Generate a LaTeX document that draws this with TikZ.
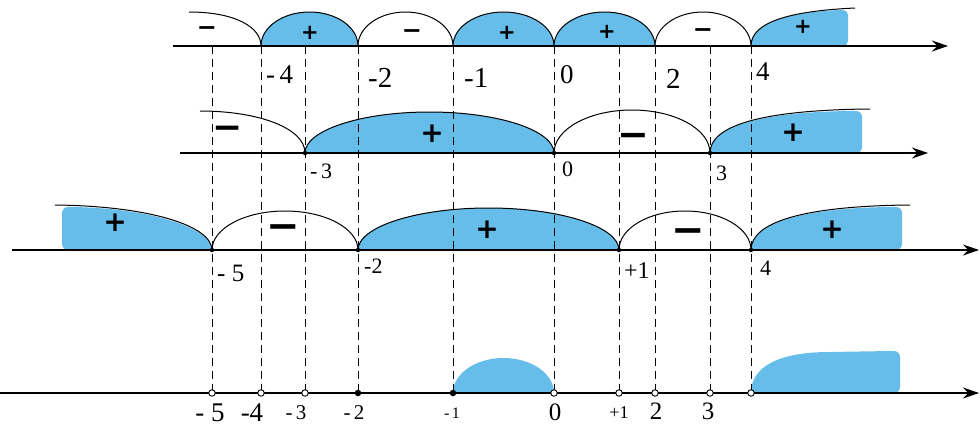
\documentclass[tikz,border=0pt]{standalone}
\usepackage{fontspec}
\setmainfont{Liberation Serif}
\newfontfamily\signfont{DejaVu Sans}
\usetikzlibrary{arrows.meta}
\definecolor{regionblue}{RGB}{102,189,234}
\tikzset{
  axisline/.style={line width=1.3pt,-{Stealth[length=16pt,width=11pt]}},
  guide/.style={line width=0.9pt,dash pattern=on 8pt off 5pt},
  bound/.style={line width=1pt},
  bluereg/.style={fill=regionblue},
  sgn/.style={font=\signfont\bfseries\fontsize{#1}{#1}\selectfont,inner sep=0pt},
  lbl/.style={font=\fontsize{#1}{#1}\selectfont,inner sep=0pt,anchor=base west},
  blbl/.style={font=\fontsize{#1}{#1}\selectfont,inner sep=0pt,anchor=base},
  rootdot/.style={fill=black,inner sep=0pt,minimum size=4.5pt,circle},
  opendot/.style={draw=black,fill=white,line width=0.9pt,inner sep=0pt,minimum size=6.5pt,circle},
  closeddot/.style={fill=black,inner sep=0pt,minimum size=6.5pt,circle}
}
\newcommand{\msign}{\vphantom{+}\char"2212}
\begin{document}
\begin{tikzpicture}[x=1pt,y=-1pt]
\useasboundingbox (0,0) rectangle (980,426);
\foreach \n/\x in {m5/212,m4/261,m3/305,m2/358,m1/453,z/554,p1/619,p2/655,p3/710,p4/751} {
  \coordinate (a\n) at (\x,46);
  \coordinate (b\n) at (\x,153);
  \coordinate (c\n) at (\x,250);
  \coordinate (d\n) at (\x,393);
}
% axis ends
\coordinate (aS) at (173,46);  \coordinate (aE) at (948,46);
\coordinate (bS) at (180,153); \coordinate (bE) at (928,153);
\coordinate (cS) at (12,250);  \coordinate (cE) at (979,250);
\coordinate (dS) at (0,393);   \coordinate (dE) at (979,393);
% free ends of open curves
\coordinate (aL) at (189,12);  \coordinate (aR) at (855,8);
\coordinate (bL) at (200,111); \coordinate (bR) at (870,109);
\coordinate (cL) at (55,205);  \coordinate (cR) at (910,205);

% ---------- row 1 ----------
\draw[bound,bluereg] (am4) arc[start angle=180,end angle=0,x radius=48.5pt,y radius=34pt] -- cycle;
\draw[bound] (am2) arc[start angle=180,end angle=0,x radius=47.5pt,y radius=34pt];
\draw[bound,bluereg] (am1) arc[start angle=180,end angle=0,x radius=50.5pt,y radius=34pt] -- cycle;
\draw[bound,bluereg] (az) arc[start angle=180,end angle=0,x radius=50.5pt,y radius=34pt] -- cycle;
\draw[bound] (ap2) arc[start angle=180,end angle=0,x radius=48pt,y radius=34pt];
\draw[bound] (aL) .. controls (235,12) and (261,27) .. (am4);
\fill[bluereg] (ap4) .. controls (751,23) and (790,12) .. (840,10) [rounded corners=5pt] -- (848,10) -- (848,46) [sharp corners] -- cycle;
\draw[bound] (ap4) .. controls (751,22) and (790,11) .. (aR);

% ---------- row 2 ----------
\draw[bound,bluereg] (bm3) arc[start angle=180,end angle=0,x radius=124.5pt,y radius=41pt] -- cycle;
\draw[bound] (bz) arc[start angle=180,end angle=0,x radius=78pt,y radius=43pt];
\draw[bound] (bL) .. controls (258,111) and (305,128) .. (bm3);
\fill[bluereg] (bp3) .. controls (710,127) and (760,112) .. (850,111) [rounded corners=6pt] -- (862,111) -- (862,153) [sharp corners] -- cycle;
\draw[bound] (bp3) .. controls (710,126) and (760,110) .. (bR);

% ---------- row 3 ----------
\draw[bound] (cm5) arc[start angle=180,end angle=0,x radius=73pt,y radius=39pt];
\draw[bound,bluereg] (cm2) arc[start angle=180,end angle=0,x radius=130.5pt,y radius=42pt] -- cycle;
\draw[bound] (cp1) arc[start angle=180,end angle=0,x radius=66pt,y radius=39pt];
\fill[bluereg] (cm5) .. controls (212,228) and (150,208) .. (72,207) [rounded corners=6pt] -- (62,207) -- (62,250) [sharp corners] -- cycle;
\draw[bound] (cL) .. controls (150,206) and (212,226) .. (cm5);
\fill[bluereg] (cp4) .. controls (751,224) and (800,208) .. (890,207) [rounded corners=6pt] -- (902,207) -- (902,250) [sharp corners] -- cycle;
\draw[bound] (cp4) .. controls (751,223) and (800,206) .. (cR);

% ---------- row 4 ----------
\fill[bluereg] (dm1) arc[start angle=180,end angle=0,x radius=50.5pt,y radius=35pt] -- cycle;
\fill[bluereg] (dp4) .. controls (751,366) and (780,352) .. (830,352) -- (890,351) [rounded corners=6pt] -- (900,351) -- (900,393) [sharp corners] -- cycle;

% ---------- guides ----------
\foreach \n in {m5,m4,m3,m2,m1,z,p1,p2,p3,p4}
  \draw[guide] (a\n) -- (d\n);

% ---------- axes ----------
\draw[axisline] (aS) -- (aE);
\draw[axisline] (bS) -- (bE);
\draw[axisline] (cS) -- (cE);
\draw[axisline] (dS) -- (dE);

% ---------- root dots ----------
\foreach \n in {m3,z,p3} \node[rootdot] (bd\n) at (b\n) {};
\foreach \n in {m5,m2,p1,p4} \node[rootdot] (cd\n) at (c\n) {};
\foreach \n in {m5,m4,m3,z,p1,p2,p3,p4} \node[opendot] (dd\n) at (d\n) {};
\foreach \n in {m2,m1} \node[closeddot] (dd\n) at (d\n) {};

% ---------- signs ----------
\node[sgn=24] (s1a) at (207,28) {\msign};
\node[sgn=21] (s1b) at (310,33) {+};
\node[sgn=24] (s1c) at (412,31) {\msign};
\node[sgn=21] (s1d) at (507,33) {+};
\node[sgn=21] (s1e) at (607,32) {+};
\node[sgn=24] (s1f) at (703,30) {\msign};
\node[sgn=21] (s1g) at (803,27) {+};

\node[sgn=36] (s2a) at (228,128) {\msign};
\node[sgn=28] (s2b) at (432,134) {+};
\node[sgn=38] (s2c) at (633,136) {\msign};
\node[sgn=28] (s2d) at (793,133) {+};

\node[sgn=28] (s3a) at (115,223) {+};
\node[sgn=40] (s3b) at (283,227) {\msign};
\node[sgn=28] (s3c) at (487,230) {+};
\node[sgn=40] (s3d) at (688,231) {\msign};
\node[sgn=28] (s3e) at (832,230) {+};

% ---------- labels ----------
\node[lbl=27] (l1a) at (266,83) {-\,4};
\node[lbl=29] (l1b) at (368,87) {-2};
\node[lbl=29] (l1c) at (464,87) {-1};
\node[lbl=27] (l1d) at (560,83) {0};
\node[lbl=29] (l1e) at (666,88) {2};
\node[lbl=27] (l1f) at (756,80) {4};

\node[lbl=22] (l2a) at (310,178) {-\,3};
\node[lbl=22] (l2b) at (562,176) {0};
\node[lbl=22] (l2c) at (716,180) {3};

\node[lbl=25] (l3a) at (217,281) {- 5};
\node[lbl=22] (l3b) at (364,273) {-2};
\node[lbl=24] (l3c) at (624,278) {+1};
\node[lbl=22] (l3d) at (760,275) {4};

\node[blbl=27] (l4a) at (210,421) {- 5};
\node[blbl=27] (l4b) at (252,421) {-4};
\node[blbl=21] (l4c) at (296,419) {-\,3};
\node[blbl=21] (l4d) at (354,419) {-\,2};
\node[blbl=16] (l4e) at (452,418) {-\,1};
\node[blbl=25] (l4f) at (555,420) {0};
\node[blbl=18] (l4g) at (619,418) {+1};
\node[blbl=25] (l4h) at (656,419) {2};
\node[blbl=25] (l4i) at (708,419) {3};
\end{tikzpicture}
\end{document}
